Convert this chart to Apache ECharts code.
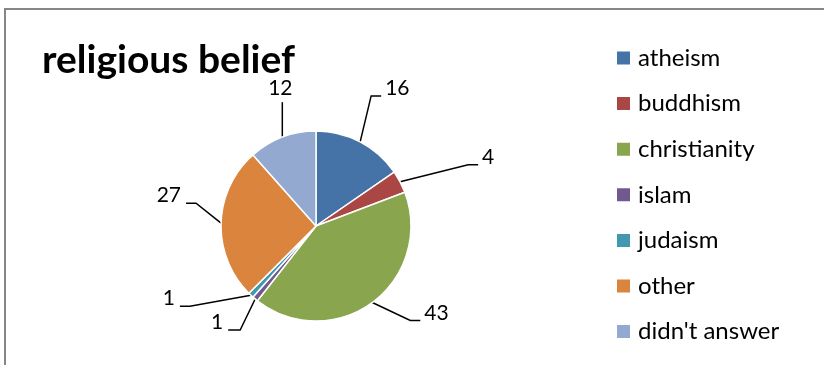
<!DOCTYPE html>
<html>
<head>
<meta charset="utf-8">
<script src="https://cdn.jsdelivr.net/npm/echarts@6/dist/echarts.min.js"></script>
<style>
  html, body { margin: 0; padding: 0; background: #fff; }
  #chart { width: 824px; height: 365px; }
</style>
</head>
<body>
<div id="chart"></div>
<script>
// Survey answers: religious belief
const categories = ['atheism', 'buddhism', 'christianity', 'islam', 'judaism', 'other', "didn't answer"];
const counts = [16, 4, 43, 1, 1, 27, 12];
const colors = ['#4572A7', '#AA4643', '#89A54E', '#71588F', '#4198AF', '#DB843D', '#93A9CF'];

// leader line shape per slice: elbow offset from the slice edge, then a horizontal run
const elbowOffsets = [[11, -46], [68, -17], [38, 18], [-15, 31], [-61, 11], [-25, -20], [0, -35]];
const tailLengths = [10, 10, 10, 12, 10, 10, 0];

const FONT = 'Lato, "Open Sans", sans-serif';

const chart = echarts.init(document.getElementById('chart'), null, { renderer: 'canvas' });

const data = categories.map((name, i) => ({
  name: name,
  value: counts[i],
  itemStyle: { color: colors[i] }
}));

chart.setOption({
  backgroundColor: '#ffffff',
  animation: false,
  title: {
    text: 'religious belief',
    left: 37,
    top: 36,
    textStyle: { fontFamily: FONT, fontWeight: 'bold', fontSize: 39, color: '#000' }
  },
  legend: {
    orient: 'vertical',
    left: 610,
    top: 41,
    height: 315,
    icon: 'rect',
    itemWidth: 15,
    itemHeight: 15,
    itemGap: 21.6,
    data: categories,
    textStyle: { fontFamily: FONT, fontSize: 24, color: '#000', padding: [0, 0, 0, 2] }
  },
  graphic: [{
    type: 'rect',
    shape: { x: 5, y: 9, width: 830, height: 370 },
    style: { fill: 'none', stroke: '#868686', lineWidth: 2 },
    silent: true
  }],
  series: [{
    type: 'pie',
    center: [316, 226],
    radius: 95,
    startAngle: 90,
    clockwise: true,
    avoidLabelOverlap: false,
    itemStyle: { borderColor: '#ffffff', borderWidth: 1.5 },
    label: {
      show: true,
      formatter: '{c}',
      fontFamily: FONT,
      fontSize: 21,
      color: '#000'
    },
    labelLine: { show: true, length: 20, length2: 10, lineStyle: { color: '#000', width: 1.5 } },
    labelLayout: function (params) {
      const pts = params.labelLinePoints;
      if (!pts) return {};
      const i = params.dataIndex;
      const p0 = pts[0];
      const elbow = [p0[0] + elbowOffsets[i][0], p0[1] + elbowOffsets[i][1]];
      const toRight = elbowOffsets[i][0] >= 0;
      const tail = tailLengths[i];
      if (tail === 0) {
        // vertical leader, value sits above it
        return {
          x: elbow[0] - 2,
          y: elbow[1] - 3,
          align: 'center',
          verticalAlign: 'bottom',
          labelLinePoints: [p0, elbow, elbow]
        };
      }
      const end = [elbow[0] + (toRight ? tail : -tail), elbow[1]];
      return {
        x: end[0] + (toRight ? 4 : -5),
        y: end[1] + 3,
        align: toRight ? 'left' : 'right',
        verticalAlign: 'bottom',
        labelLinePoints: [p0, elbow, end]
      };
    },
    data: data
  }]
});
</script>
</body>
</html>
